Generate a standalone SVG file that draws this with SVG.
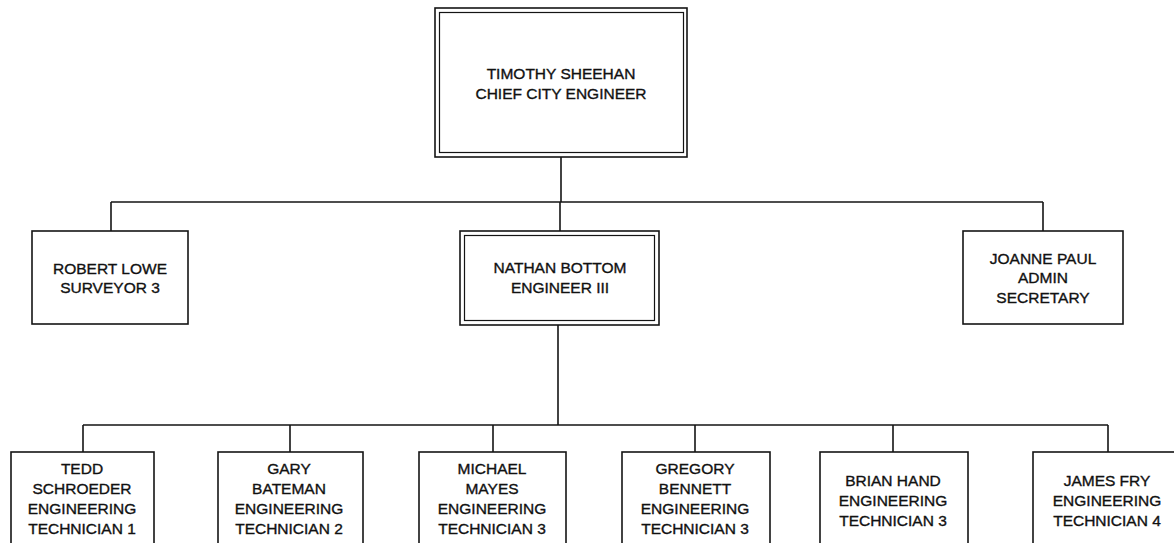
<svg xmlns="http://www.w3.org/2000/svg" width="1174" height="543" viewBox="0 0 1174 543">
<style>
.box{fill:#fff;stroke:#141414;stroke-width:1.6}
.inner{fill:none;stroke:#141414;stroke-width:1.2}
.conn{stroke:#141414;stroke-width:1.6;fill:none}
text{font-family:"Liberation Sans",Arial,sans-serif;font-size:15.5px;fill:#111;stroke:#111;stroke-width:0.35;text-anchor:middle}
</style>
<rect width="1174" height="543" fill="#fff"/>
<g id="connectors">
<path class="conn" d="M561 157V202M111 202H1043M111 202V231M1043 202V231M560 202V231"/>
<path class="conn" d="M558 325V425M83 425H1108M83 425V452M290 425V452M493 425V452M695 425V452M893 425V452M1108 425V452"/>
</g>
<g id="timothy">
<rect class="box" x="435" y="8" width="252" height="149"/>
<rect class="inner" x="439.5" y="12.5" width="244" height="140"/>
<text x="561" y="79">TIMOTHY SHEEHAN</text>
<text x="561" y="99">CHIEF CITY ENGINEER</text>
</g>
<g id="robert">
<rect class="box" x="32" y="231" width="156" height="93"/>
<text x="110" y="273.5">ROBERT LOWE</text>
<text x="110" y="292.5">SURVEYOR 3</text>
</g>
<g id="nathan">
<rect class="box" x="460" y="231" width="199" height="94"/>
<rect class="inner" x="464.5" y="235.5" width="190" height="85"/>
<text x="560" y="272.5">NATHAN BOTTOM</text>
<text x="560" y="292.5">ENGINEER III</text>
</g>
<g id="joanne">
<rect class="box" x="963" y="231" width="160" height="93"/>
<text x="1043" y="263.5">JOANNE PAUL</text>
<text x="1043" y="283">ADMIN</text>
<text x="1043" y="302.5">SECRETARY</text>
</g>
<g id="tedd">
<rect class="box" x="11" y="452" width="143" height="100"/>
<text x="82" y="474">TEDD</text>
<text x="82" y="494">SCHROEDER</text>
<text x="82" y="514">ENGINEERING</text>
<text x="82" y="533.5">TECHNICIAN 1</text>
</g>
<g id="gary">
<rect class="box" x="218" y="452" width="145" height="100"/>
<text x="289" y="474">GARY</text>
<text x="289" y="494">BATEMAN</text>
<text x="289" y="514">ENGINEERING</text>
<text x="289" y="533.5">TECHNICIAN 2</text>
</g>
<g id="michael">
<rect class="box" x="419" y="452" width="147" height="100"/>
<text x="492" y="474">MICHAEL</text>
<text x="492" y="494">MAYES</text>
<text x="492" y="514">ENGINEERING</text>
<text x="492" y="533.5">TECHNICIAN 3</text>
</g>
<g id="gregory">
<rect class="box" x="622" y="452" width="148" height="100"/>
<text x="695" y="474">GREGORY</text>
<text x="695" y="494">BENNETT</text>
<text x="695" y="514">ENGINEERING</text>
<text x="695" y="533.5">TECHNICIAN 3</text>
</g>
<g id="brian">
<rect class="box" x="820" y="452" width="148" height="100"/>
<text x="893" y="485.5">BRIAN HAND</text>
<text x="893" y="505.5">ENGINEERING</text>
<text x="893" y="525.5">TECHNICIAN 3</text>
</g>
<g id="james">
<rect class="box" x="1033" y="452" width="150" height="100"/>
<text x="1107" y="485.5">JAMES FRY</text>
<text x="1107" y="505.5">ENGINEERING</text>
<text x="1107" y="525.5">TECHNICIAN 4</text>
</g>
</svg>
